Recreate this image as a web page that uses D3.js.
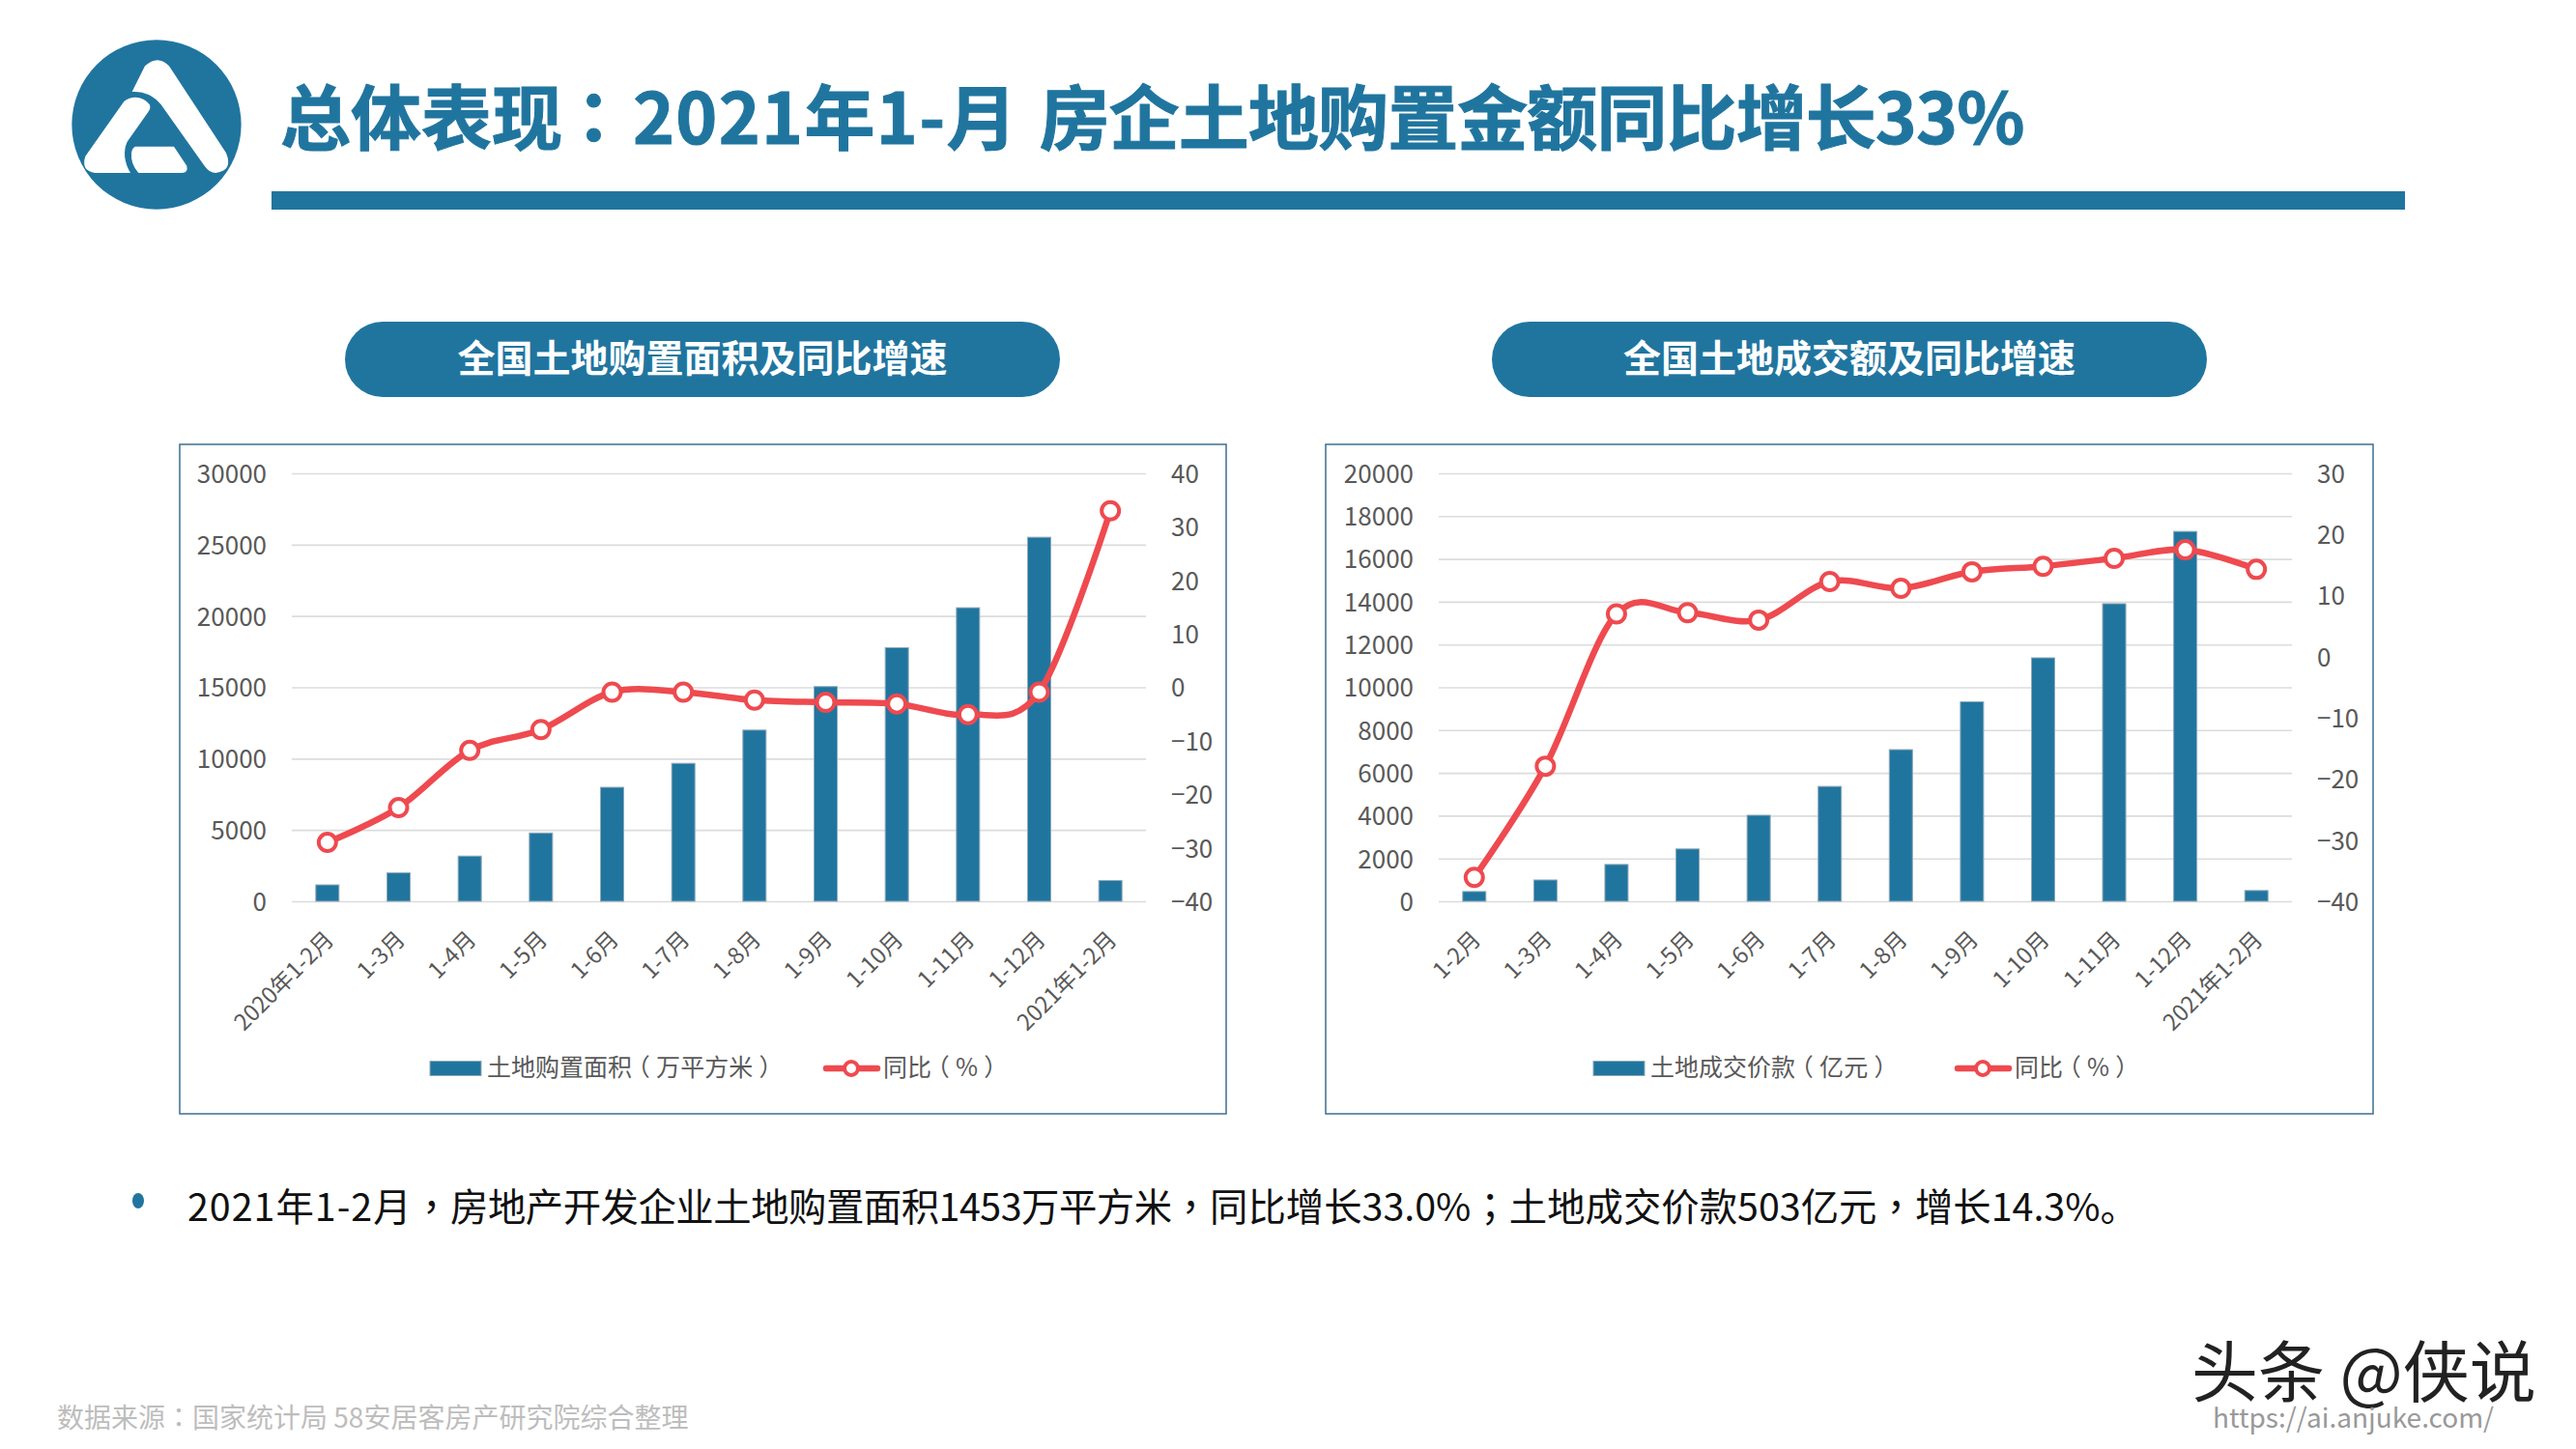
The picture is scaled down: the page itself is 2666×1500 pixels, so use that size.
<!DOCTYPE html>
<html><head><meta charset="utf-8">
<script src="https://cdn.jsdelivr.net/npm/d3@7"></script>
<style>
html,body{margin:0;padding:0;background:#fff;width:2666px;height:1500px;overflow:hidden}
svg{display:block}
text{font-family:"Noto Sans CJK SC","Noto Sans",sans-serif}
</style></head><body>
<svg id="c" width="2666" height="1500" viewBox="0 0 2666 1500"></svg>
<script>
const titleText = "总体表现：2021年1-月 房企土地购置金额同比增长33%";
const noteText = "2021年1-2月，房地产开发企业土地购置面积1453万平方米，同比增长33.0%；土地成交价款503亿元，增长14.3%。";
const sourceText = "数据来源：国家统计局 58安居客房产研究院综合整理";
const markText = "头条 @侠说";
const urlText = "https://ai.anjuke.com/";

const leftCategories = ["2020年1-2月","1-3月","1-4月","1-5月","1-6月","1-7月","1-8月","1-9月","1-10月","1-11月","1-12月","2021年1-2月"];
const leftArea = [1150,1990,3170,4790,7990,9670,12000,15050,17780,20580,25520,1453];
const leftYoY = [-29.0,-22.5,-11.8,-7.9,-0.9,-0.9,-2.4,-2.8,-3.1,-5.1,-0.9,33.0];
const leftTicks = [0,5000,10000,15000,20000,25000,30000];
const leftRightTicks = [-40,-30,-20,-10,0,10,20,30,40];

const rightCategories = ["1-2月","1-3月","1-4月","1-5月","1-6月","1-7月","1-8月","1-9月","1-10月","1-11月","1-12月","2021年1-2月"];
const rightPrice = [456,995,1720,2446,4020,5368,7088,9326,11378,13907,17285,503];
const rightYoY = [-36.1,-17.9,7.0,7.2,6.0,12.3,11.2,13.9,14.8,16.1,17.5,14.3];
const rightTicks = [0,2000,4000,6000,8000,10000,12000,14000,16000,18000,20000];
const rightRightTicks = [-40,-30,-20,-10,0,10,20,30];

const BLUE="#20759f", RED="#ee4a4f", GRID="#dcdcdc", TXT="#595959";
const svg=d3.select("#c");
svg.append("rect").attr("width",2666).attr("height",1500).attr("fill","#fff");

// comma, semicolon and colon centred in the em box, as in the reference
function rich(t,str){
  str.split(/([，；：])/).forEach(p=>{
    if(!p) return;
    const ts=t.append("tspan").text(p);
    if("，；：".includes(p)) ts.attr("font-family",'"Noto Sans CJK TC"');
  });
  return t;
}
// brackets centred in the em box: per-character shifts on a single text node
function bracketed(t,str){
  const dx=[]; let carry=0;
  Array.from(str).forEach(c=>{
    let d=carry; carry=0;
    if(c==="（"){d-=0.25;carry=0.25;}
    if(c==="）"){d+=0.25;carry=-0.25;}
    dx.push(d+"em");
  });
  return t.attr("dx",dx.join(" ")).text(str);
}

// logo
const logo=svg.append("g").attr("transform","translate(60,30) scale(0.3333)");
logo.append("circle").attr("cx",306).attr("cy",297).attr("r",263).attr("fill",BLUE);
["M270,115 Q310,78 345,115 L522,385 Q545,440 490,447 Q470,447 455,425 L320,235 Q285,192 230,195 Z",
 "M85,395 L205,225 Q240,200 275,225 Q295,240 280,258 L215,350 Q195,395 225,447 L115,447 Q70,440 85,395 Z",
 "M240,365 L360,365 L400,425 Q405,447 385,447 L250,447 Q225,420 228,385 Q230,370 240,365 Z"
].forEach(d=>logo.append("path").attr("d",d).attr("fill","#fff"));

// title: spacing adjusted per run to follow the reference's glyph widths
const titleEl=svg.append("text").attr("x",290).attr("y",149).attr("font-size",73).attr("font-weight",700).attr("fill",BLUE)
  .attr("stroke",BLUE).attr("stroke-width",1);
const [titleHead,titleTail]=titleText.split("：");
const [titleDate,titleRest]=titleTail.split(" ");
titleEl.append("tspan").text(titleHead);
titleEl.append("tspan").attr("font-family",'"Noto Sans CJK TC"').attr("dx",-4).text("：");
titleEl.append("tspan").attr("dx",4).attr("letter-spacing",1.3).text(titleDate+" ");
titleEl.append("tspan").attr("dx",4).attr("letter-spacing",-0.9).text(titleRest);

svg.append("rect").attr("x",281).attr("y",198).attr("width",2208).attr("height",19).attr("fill",BLUE);

function chart(o){
  const g=svg.append("g");
  g.append("rect").attr("x",o.box[0]).attr("y",460).attr("width",o.box[1]-o.box[0]).attr("height",693)
    .attr("fill","#fff").attr("stroke","#3d6f90").attr("stroke-width",1.5);
  g.append("rect").attr("x",o.pill).attr("y",333).attr("width",740).attr("height",78).attr("rx",39).attr("fill",BLUE);
  g.append("text").attr("x",o.pill+370).attr("y",385).attr("text-anchor","middle").attr("font-size",39)
    .attr("font-weight",700).attr("fill","#fff").text(o.pillText);

  const top=490,bottom=933;
  const x=d3.scaleBand().domain(o.cats).range([o.x0,o.x1]);
  const yL=d3.scaleLinear().domain(d3.extent(o.lt)).range([bottom,top]);
  const yR=d3.scaleLinear().domain(d3.extent(o.rt)).range([bottom,top]);

  const al=g.append("g").attr("transform",`translate(${o.x0},0)`)
    .call(d3.axisLeft(yL).tickValues(o.lt).tickFormat(d3.format("d")).tickSize(o.x0-o.x1).tickPadding(26));
  al.select(".domain").remove();
  al.selectAll("line").attr("stroke",GRID).attr("stroke-width",1.6);
  al.selectAll("text").attr("font-size",26).attr("fill",TXT).attr("dy","0.36em");

  const ar=g.append("g").attr("transform",`translate(${o.x1},0)`)
    .call(d3.axisRight(yR).tickValues(o.rt).tickFormat(d3.format("d")).tickSize(0).tickPadding(26));
  ar.select(".domain").remove();
  ar.selectAll("text").attr("font-size",26).attr("fill",TXT).attr("dy","0.36em");

  const ab=g.append("g").attr("transform",`translate(0,${bottom})`)
    .call(d3.axisBottom(x).tickSize(0).tickPadding(0));
  ab.select(".domain").remove();
  ab.selectAll("text").attr("font-size",23.5).attr("fill",TXT).attr("text-anchor","end")
    .attr("dy",0).attr("y",0).attr("transform","translate(8,41) rotate(-45)");

  const bw=24;
  g.selectAll(".bar").data(o.bars).join("rect")
    .attr("x",(d,i)=>x(o.cats[i])+x.bandwidth()/2-bw/2).attr("width",bw)
    .attr("y",d=>yL(d)).attr("height",d=>bottom-yL(d))
    .attr("fill",BLUE).attr("stroke","#8fa9b8").attr("stroke-width",1);

  const line=d3.line().x((d,i)=>x(o.cats[i])+x.bandwidth()/2).y(d=>yR(d)).curve(d3.curveCatmullRom.alpha(0));
  g.append("path").attr("d",line(o.line)).attr("fill","none").attr("stroke",RED).attr("stroke-width",6.5).attr("stroke-linecap","round");
  g.selectAll(".pt").data(o.line).join("circle")
    .attr("cx",(d,i)=>x(o.cats[i])+x.bandwidth()/2).attr("cy",d=>yR(d)).attr("r",9)
    .attr("fill","#fff").attr("stroke",RED).attr("stroke-width",4);

  // legend
  const ly=1106;
  g.append("rect").attr("x",o.leg[0]).attr("y",ly-7.5).attr("width",53).attr("height",15).attr("fill",BLUE).attr("stroke","#8fa9b8").attr("stroke-width",1);
  bracketed(g.append("text").attr("x",o.leg[0]+59).attr("y",ly+8).attr("font-size",25).attr("fill",TXT),o.legA);
  g.append("line").attr("x1",o.leg[1]+2).attr("x2",o.leg[1]+55).attr("y1",ly).attr("y2",ly).attr("stroke",RED).attr("stroke-width",6.5).attr("stroke-linecap","round");
  g.append("circle").attr("cx",o.leg[1]+28).attr("cy",ly).attr("r",7).attr("fill","#fff").attr("stroke",RED).attr("stroke-width",4);
  bracketed(g.append("text").attr("x",o.leg[1]+61).attr("y",ly+8).attr("font-size",25).attr("fill",TXT),o.legB);
}

chart({box:[186,1269],pill:357,pillText:"全国土地购置面积及同比增速",x0:302,x1:1186,cats:leftCategories,bars:leftArea,line:leftYoY,lt:leftTicks,rt:leftRightTicks,leg:[445,853],legA:"土地购置面积（万平方米）",legB:"同比（%）"});
chart({box:[1372,2456],pill:1544,pillText:"全国土地成交额及同比增速",x0:1489,x1:2372,cats:rightCategories,bars:rightPrice,line:rightYoY,lt:rightTicks,rt:rightRightTicks,leg:[1649,2024],legA:"土地成交价款（亿元）",legB:"同比（%）"});

svg.append("ellipse").attr("cx",143).attr("cy",1243).attr("rx",6).attr("ry",8).attr("fill",BLUE);
const noteEl=rich(svg.append("text").attr("x",194).attr("y",1264).attr("font-size",39.4).attr("fill","#111"),noteText);
noteEl.selectAll("tspan").filter((d,i)=>i===0).attr("letter-spacing",1);
noteEl.selectAll("tspan").filter((d,i)=>i===2).attr("letter-spacing",-0.5);
rich(svg.append("text").attr("x",59).attr("y",1478).attr("font-size",28).attr("fill","#bdbdbd"),sourceText);
svg.append("text").attr("x",2268).attr("y",1446).attr("font-size",69).attr("fill","#222").text(markText);
svg.append("text").attr("x",2290).attr("y",1478).attr("font-size",28).attr("fill","#999").text(urlText);
</script>
</body></html>
